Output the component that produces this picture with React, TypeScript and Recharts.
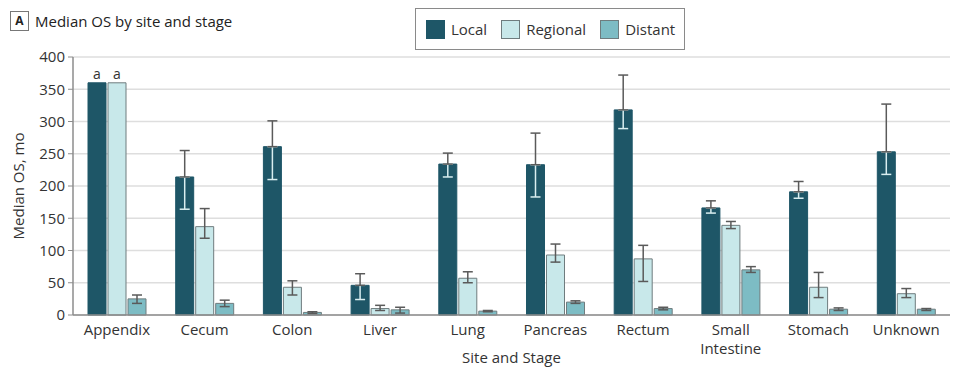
import React from 'react';
import { BarChart, Bar, XAxis, YAxis, CartesianGrid, ErrorBar, LabelList, Text } from 'recharts';

const categories = ['Appendix', 'Cecum', 'Colon', 'Liver', 'Lung', 'Pancreas', 'Rectum', 'Small Intestine', 'Stomach', 'Unknown'];
const local = [360, 214, 261, 46, 234, 233, 318, 166, 191, 253];
const localLow: (number | null)[] = [null, 164, 210, 24, 214, 183, 289, 158, 181, 218];
const localHigh: (number | null)[] = [null, 255, 301, 64, 251, 282, 372, 177, 207, 327];
const regional = [360, 137, 43, 10, 57, 93, 87, 139, 43, 33];
const regionalLow: (number | null)[] = [null, 119, 31, 7, 50, 82, 52, 134, 27, 27];
const regionalHigh: (number | null)[] = [null, 165, 53, 15, 67, 110, 108, 145, 66, 41];
const distant = [25, 18, 4, 8, 6, 20, 10, 70, 9, 9];
const distantLow = [18, 13, 2, 3, 5, 18, 8, 66, 7, 7];
const distantHigh = [31, 23, 5, 12, 7, 22, 12, 75, 11, 10];
const notes = ['a', '', '', '', '', '', '', '', '', ''];
const yTicks = [0, 50, 100, 150, 200, 250, 300, 350, 400];

const series = [
  { key: 'local', name: 'Local', color: '#1e5667', stroke: '#1e5667' },
  { key: 'regional', name: 'Regional', color: '#c8e8ea', stroke: '#6f7c7e' },
  { key: 'distant', name: 'Distant', color: '#7dbcc4', stroke: '#6f7c7e' },
];

const data = categories.map((c, i) => ({
  site: c,
  local: local[i],
  regional: regional[i],
  distant: distant[i],
  localDown: localLow[i] == null ? undefined : [local[i] - (localLow[i] as number), 0],
  localUp: localHigh[i] == null ? undefined : [0, (localHigh[i] as number) - local[i]],
  regionalErr: regionalLow[i] == null ? undefined : [regional[i] - (regionalLow[i] as number), (regionalHigh[i] as number) - regional[i]],
  distantErr: [distant[i] - distantLow[i], distantHigh[i] - distant[i]],
  note: notes[i],
}));

const FONT = '"Open Sans", sans-serif';

const XTick = (props: any) => {
  const { x, y, payload } = props;
  return (
    <Text x={x} y={y + 1} width={80} textAnchor="middle" verticalAnchor="start" fontSize={15} fill="#333" fontFamily={FONT} lineHeight={19}>
      {payload.value}
    </Text>
  );
};

const LegendBox = () => (
  <div
    style={{
      position: 'absolute',
      left: 415,
      top: 8,
      width: 270,
      display: 'flex',
      alignItems: 'center',
      border: '1.5px solid #8a8a8a',
      padding: '0 10px',
      height: 42,
      boxSizing: 'border-box',
      background: '#fff',
      fontFamily: FONT,
      fontSize: 15,
      color: '#333',
      zIndex: 2,
    }}
  >
    {series.map((s, i) => (
      <div key={s.key} style={{ display: 'flex', alignItems: 'center', marginLeft: i === 0 ? 0 : 14 }}>
        <span style={{ display: 'inline-block', width: 19, height: 19, background: s.color, border: `1px solid ${s.stroke}`, boxSizing: 'border-box', marginRight: 6 }} />
        <span>{s.name}</span>
      </div>
    ))}
  </div>
);

export default function App() {
  return (
    <div style={{ position: 'absolute', left: 0, top: 0, width: 959, height: 372, background: '#fff' }}>
      <div style={{ position: 'absolute', left: 10, top: 11, display: 'flex', alignItems: 'center', fontFamily: FONT, color: '#222', zIndex: 2 }}>
        <span style={{ display: 'inline-block', border: '1.5px solid #777', width: 17, height: 18, lineHeight: '18px', textAlign: 'center', fontSize: 12, fontWeight: 700, boxSizing: 'content-box' }}>A</span>
        <span style={{ marginLeft: 6, fontSize: 15 }}>Median OS by site and stage</span>
      </div>
      <LegendBox />
      <BarChart width={959} height={372} data={data} margin={{ top: 57, right: 9, left: 0, bottom: 0 }} barSize={18} barGap={2}>
        <CartesianGrid vertical={false} stroke="#dedede" strokeWidth={1.5} />
        <XAxis
          dataKey="site"
          height={57}
          tickLine={false}
          axisLine={{ stroke: '#8c8c8c', strokeWidth: 1.5 }}
          tick={<XTick />}
          interval={0}
          label={{ value: 'Site and Stage', position: 'insideBottom', offset: 9, fontSize: 15, fill: '#333', fontFamily: FONT }}
        />
        <YAxis
          width={73}
          domain={[0, 400]}
          ticks={yTicks}
          tickSize={5}
          tickMargin={3}
          tickLine={{ stroke: '#8c8c8c' }}
          axisLine={{ stroke: '#8c8c8c', strokeWidth: 1.5 }}
          tick={{ fontSize: 15, fill: '#333', fontFamily: FONT }}
          label={(p: any) => {
            const vb = p.viewBox;
            const cx = vb.x + 18;
            const cy = vb.y + vb.height / 2;
            return (
              <text x={cx} y={cy} transform={`rotate(-90 ${cx} ${cy})`} textAnchor="middle" dominantBaseline="central" fontSize={15} fill="#333" fontFamily={FONT}>
                Median OS, mo
              </text>
            );
          }}
        />
        <Bar dataKey="local" name="Local" fill="#1e5667" stroke="#1e5667" isAnimationActive={false}>
          <ErrorBar dataKey="localDown" width={5} stroke="#d9eef0" strokeWidth={1.5} />
          <ErrorBar dataKey="localUp" width={5} stroke="#5a5a5a" strokeWidth={1.5} />
          <LabelList dataKey="note" position="top" offset={4} fontSize={14} fill="#333" fontFamily={FONT} />
        </Bar>
        <Bar dataKey="regional" name="Regional" fill="#c8e8ea" stroke="#6f7c7e" isAnimationActive={false}>
          <ErrorBar dataKey="regionalErr" width={5} stroke="#5a5a5a" strokeWidth={1.5} />
          <LabelList dataKey="note" position="top" offset={4} fontSize={14} fill="#333" fontFamily={FONT} />
        </Bar>
        <Bar dataKey="distant" name="Distant" fill="#7dbcc4" stroke="#6f7c7e" isAnimationActive={false}>
          <ErrorBar dataKey="distantErr" width={5} stroke="#5a5a5a" strokeWidth={1.5} />
        </Bar>
      </BarChart>
    </div>
  );
}
